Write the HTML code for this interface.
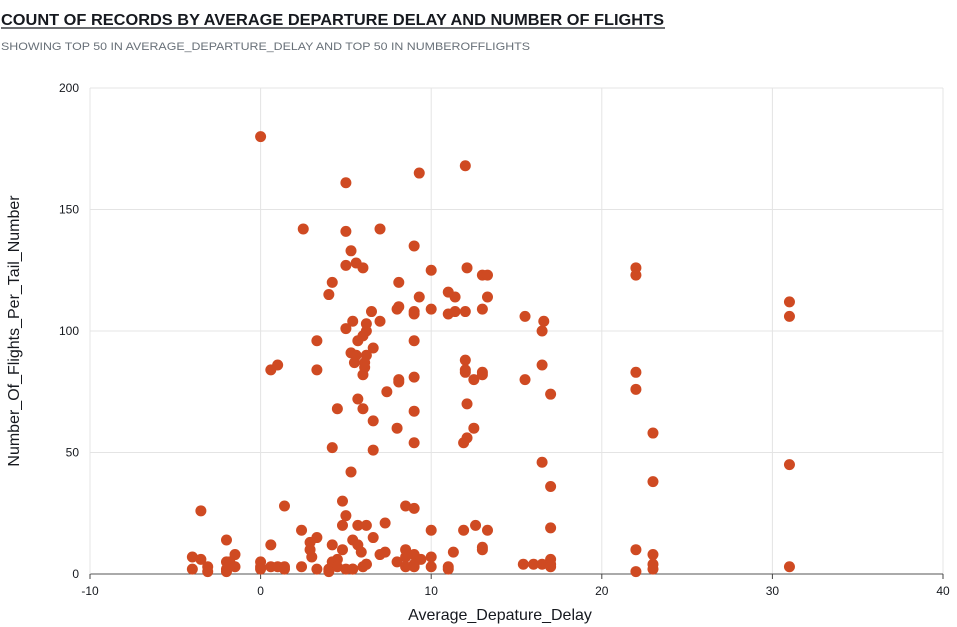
<!DOCTYPE html>
<html><head><meta charset="utf-8">
<style>
html,body{margin:0;padding:0;background:#fff;}
svg{display:block;font-family:"Liberation Sans",sans-serif;}
</style></head>
<body>
<svg id="chart" width="957" height="627" viewBox="0 0 957 627" xmlns="http://www.w3.org/2000/svg">
<text x="1" y="25" font-size="15.5" font-weight="bold" fill="#16191f" textLength="663" lengthAdjust="spacingAndGlyphs">COUNT OF RECORDS BY AVERAGE DEPARTURE DELAY AND NUMBER OF FLIGHTS</text>
<line x1="1" y1="28" x2="665" y2="28" stroke="#16191f" stroke-width="1.2"/>
<text x="1" y="50" font-size="11" fill="#687078" textLength="529" lengthAdjust="spacingAndGlyphs">SHOWING TOP 50 IN AVERAGE_DEPARTURE_DELAY AND TOP 50 IN NUMBEROFFLIGHTS</text>
<g id="grid"></g>
<g id="axes"></g>
<g id="points"></g>
<text x="500" y="620" font-size="16" fill="#16191f" text-anchor="middle">Average_Depature_Delay</text>
<text transform="translate(19,331) rotate(-90)" font-size="16" fill="#16191f" text-anchor="middle">Number_Of_Flights_Per_Tail_Number</text>
</svg>
<script>
const xTicks = [-10, 0, 10, 20, 30, 40];
const yTicks = [0, 50, 100, 150, 200];
const delayValues = [0,5,9.3,12,2.5,5,7,5.3,9,5,5.6,6,10,12.1,13,13.3,4.2,8.1,4,11,11.4,13.3,9.3,6.5,8,8.1,9,9,10,11,11.4,12,13,15.5,16.5,16.6,5.4,6.2,5,7,6.2,6,5.7,3.3,9,6.6,5.3,5.6,6.2,5.5,6.1,0.6,1,3.3,6.1,6,12,12,12,13,12.5,13,15.5,16.5,17,7.4,8.1,8.1,9,5.7,6,4.5,9,12.1,6.6,8,12.5,9,12.1,11.9,4.2,6.6,16.5,5.3,22,22,31,31,22,22,23,31,23,17,
-3.5,1.4,4.8,8.5,9,5,4.8,5.7,6.2,7.3,2.4,10,11.9,12.6,13.3,17,-2,0.6,3.3,2.9,2.9,3,4.2,5.4,5.7,5.9,6.6,4.8,7,7.3,8.5,9,8.5,8,9.4,10,11.3,13,13,4.5,4.2,17,-4,-3.5,-2,-1.5,-1.8,0,
-4,-3.1,-2,-1.5,0,0.6,1,1.4,2.4,3.3,4,4.5,5,5.4,6,6.2,8.5,9,10,11,15.4,16,16.5,17,-3.1,-2,0,1.4,4,5.4,6.2,9,11,17,22,22,23,23,23,31];
const flightValues = [180,161,165,168,142,141,142,133,135,127,128,126,125,126,123,123,120,120,115,116,114,114,114,108,109,110,108,107,109,107,108,108,109,106,100,104,104,103,101,104,100,98,96,96,96,93,91,90,90,87,87,84,86,84,85,82,88,84,83,83,80,82,80,86,74,75,79,80,81,72,68,68,67,70,63,60,60,54,56,54,52,51,46,42,126,123,112,106,83,76,58,45,38,36,
26,28,30,28,27,24,20,20,20,21,18,18,18,20,18,19,14,12,15,13,10,7,12,14,12,9,15,10,8,9,10,8,7,5,6,7,9,11,10,6,5,6,7,6,5,8,5,5,
2,3,2,3,2,3,3,3,3,2,2,3,2,2,3,4,3,4,3,2,4,4,4,4,1,1,3,2,1,2,4,3,3,3,10,1,8,4,2,3];

const X0 = 90, X1 = 943, Y0 = 574, Y1 = 88;
function xScale(v){ return X0 + (v - (-10)) / 50 * (X1 - X0); }
function yScale(v){ return Y0 - v / 200 * (Y0 - Y1); }
const NS = "http://www.w3.org/2000/svg";
const grid = document.getElementById('grid');
const axes = document.getElementById('axes');
const pts = document.getElementById('points');

xTicks.forEach(t => {
  const l = document.createElementNS(NS, 'line');
  
  
  l.setAttribute('x1', xScale(t)); l.setAttribute('x2', xScale(t));
  l.setAttribute('y1', Y1); l.setAttribute('y2', Y0);
  l.setAttribute('stroke', '#e4e4e4'); l.setAttribute('stroke-width', '1');
  grid.appendChild(l);
  const tk = document.createElementNS(NS, 'line');
  
  
  tk.setAttribute('x1', xScale(t)); tk.setAttribute('x2', xScale(t));
  tk.setAttribute('y1', Y0); tk.setAttribute('y2', Y0 + 5);
  tk.setAttribute('stroke', '#444'); tk.setAttribute('stroke-width', '1');
  axes.appendChild(tk);
  const tx = document.createElementNS(NS, 'text');
  
  
  tx.setAttribute('x', xScale(t)); tx.setAttribute('y', Y0 + 21);
  tx.setAttribute('font-size', '12'); tx.setAttribute('fill', '#16191f');
  tx.setAttribute('text-anchor', 'middle');
  tx.textContent = t;
  axes.appendChild(tx);
});
yTicks.forEach(t => {
  const l = document.createElementNS(NS, 'line');
  
  
  l.setAttribute('x1', X0); l.setAttribute('x2', X1);
  l.setAttribute('y1', yScale(t)); l.setAttribute('y2', yScale(t));
  l.setAttribute('stroke', t === 0 ? '#555' : '#e4e4e4'); l.setAttribute('stroke-width', '1');
  grid.appendChild(l);
  const tx = document.createElementNS(NS, 'text');
  
  
  tx.setAttribute('x', X0 - 11); tx.setAttribute('y', yScale(t) + 4);
  tx.setAttribute('font-size', '12'); tx.setAttribute('fill', '#16191f');
  tx.setAttribute('text-anchor', 'end');
  tx.textContent = t;
  axes.appendChild(tx);
});
const yAxis = document.createElementNS(NS, 'line');


yAxis.setAttribute('x1', X0); yAxis.setAttribute('x2', X0);
yAxis.setAttribute('y1', Y1); yAxis.setAttribute('y2', Y0);
yAxis.setAttribute('stroke', '#e4e4e4');
grid.appendChild(yAxis);

delayValues.forEach((d, i) => {
  const c = document.createElementNS(NS, 'circle');
  
  
  c.setAttribute('cx', xScale(d));
  c.setAttribute('cy', yScale(flightValues[i]));
  c.setAttribute('r', '5.5');
  c.setAttribute('fill', '#cf4a22');
  pts.appendChild(c);
});
</script>
</body></html>
